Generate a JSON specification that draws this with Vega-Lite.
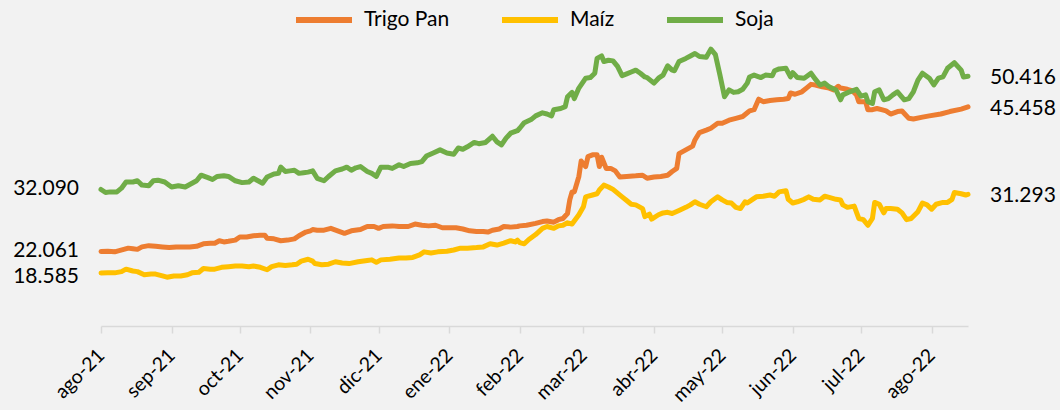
{
  "$schema": "https://vega.github.io/schema/vega-lite/v6.json",
  "autosize": {"type": "none"},
  "width": 867,
  "height": 309,
  "padding": {"left": 101, "top": 17, "right": 92, "bottom": 84},
  "background": "#F2F2F2",
  "config": {
    "view": {"stroke": null},
    "locale": {"number": {"decimal": ",", "thousands": ".", "grouping": [3], "currency": ["$", ""]}},
    "axis": {"grid": false}
  },
  "data": {"values": [
    {"d":"2021-08-01","s":"Trigo Pan","v":22061},{"d":"2021-08-04","s":"Trigo Pan","v":22100},{"d":"2021-08-07","s":"Trigo Pan","v":22000},{"d":"2021-08-09","s":"Trigo Pan","v":22200},{"d":"2021-08-13","s":"Trigo Pan","v":22600},{"d":"2021-08-15","s":"Trigo Pan","v":22500},{"d":"2021-08-17","s":"Trigo Pan","v":22400},{"d":"2021-08-19","s":"Trigo Pan","v":22800},{"d":"2021-08-22","s":"Trigo Pan","v":23000},{"d":"2021-08-25","s":"Trigo Pan","v":22900},{"d":"2021-08-28","s":"Trigo Pan","v":22800},{"d":"2021-08-31","s":"Trigo Pan","v":22700},{"d":"2021-09-03","s":"Trigo Pan","v":22800},{"d":"2021-09-06","s":"Trigo Pan","v":22800},{"d":"2021-09-09","s":"Trigo Pan","v":22800},{"d":"2021-09-12","s":"Trigo Pan","v":22900},{"d":"2021-09-15","s":"Trigo Pan","v":23300},{"d":"2021-09-18","s":"Trigo Pan","v":23400},{"d":"2021-09-20","s":"Trigo Pan","v":23400},{"d":"2021-09-22","s":"Trigo Pan","v":23800},{"d":"2021-09-24","s":"Trigo Pan","v":23600},{"d":"2021-09-26","s":"Trigo Pan","v":23700},{"d":"2021-09-29","s":"Trigo Pan","v":23900},{"d":"2021-10-01","s":"Trigo Pan","v":24400},{"d":"2021-10-04","s":"Trigo Pan","v":24400},{"d":"2021-10-07","s":"Trigo Pan","v":24600},{"d":"2021-10-10","s":"Trigo Pan","v":24700},{"d":"2021-10-12","s":"Trigo Pan","v":24700},{"d":"2021-10-13","s":"Trigo Pan","v":24200},{"d":"2021-10-16","s":"Trigo Pan","v":24100},{"d":"2021-10-19","s":"Trigo Pan","v":23800},{"d":"2021-10-22","s":"Trigo Pan","v":23900},{"d":"2021-10-25","s":"Trigo Pan","v":24100},{"d":"2021-10-27","s":"Trigo Pan","v":24600},{"d":"2021-10-30","s":"Trigo Pan","v":25200},{"d":"2021-11-01","s":"Trigo Pan","v":25400},{"d":"2021-11-02","s":"Trigo Pan","v":25600},{"d":"2021-11-04","s":"Trigo Pan","v":25500},{"d":"2021-11-07","s":"Trigo Pan","v":25500},{"d":"2021-11-10","s":"Trigo Pan","v":25800},{"d":"2021-11-13","s":"Trigo Pan","v":25400},{"d":"2021-11-16","s":"Trigo Pan","v":25000},{"d":"2021-11-19","s":"Trigo Pan","v":25400},{"d":"2021-11-23","s":"Trigo Pan","v":25600},{"d":"2021-11-26","s":"Trigo Pan","v":26100},{"d":"2021-11-29","s":"Trigo Pan","v":26100},{"d":"2021-12-01","s":"Trigo Pan","v":25800},{"d":"2021-12-03","s":"Trigo Pan","v":26100},{"d":"2021-12-07","s":"Trigo Pan","v":26200},{"d":"2021-12-10","s":"Trigo Pan","v":26100},{"d":"2021-12-14","s":"Trigo Pan","v":26100},{"d":"2021-12-17","s":"Trigo Pan","v":26500},{"d":"2021-12-20","s":"Trigo Pan","v":26300},{"d":"2021-12-23","s":"Trigo Pan","v":26200},{"d":"2021-12-26","s":"Trigo Pan","v":26300},{"d":"2021-12-29","s":"Trigo Pan","v":25900},{"d":"2022-01-01","s":"Trigo Pan","v":25900},{"d":"2022-01-04","s":"Trigo Pan","v":25900},{"d":"2022-01-07","s":"Trigo Pan","v":25700},{"d":"2022-01-10","s":"Trigo Pan","v":25400},{"d":"2022-01-13","s":"Trigo Pan","v":25300},{"d":"2022-01-16","s":"Trigo Pan","v":25300},{"d":"2022-01-18","s":"Trigo Pan","v":25200},{"d":"2022-01-20","s":"Trigo Pan","v":25500},{"d":"2022-01-23","s":"Trigo Pan","v":25700},{"d":"2022-01-25","s":"Trigo Pan","v":26100},{"d":"2022-01-28","s":"Trigo Pan","v":26000},{"d":"2022-01-31","s":"Trigo Pan","v":26100},{"d":"2022-02-01","s":"Trigo Pan","v":26200},{"d":"2022-02-04","s":"Trigo Pan","v":26300},{"d":"2022-02-08","s":"Trigo Pan","v":26600},{"d":"2022-02-11","s":"Trigo Pan","v":26900},{"d":"2022-02-13","s":"Trigo Pan","v":27000},{"d":"2022-02-16","s":"Trigo Pan","v":26800},{"d":"2022-02-18","s":"Trigo Pan","v":27200},{"d":"2022-02-20","s":"Trigo Pan","v":27400},{"d":"2022-02-22","s":"Trigo Pan","v":28200},{"d":"2022-02-23","s":"Trigo Pan","v":30400},{"d":"2022-02-24","s":"Trigo Pan","v":31700},{"d":"2022-02-25","s":"Trigo Pan","v":31700},{"d":"2022-02-27","s":"Trigo Pan","v":34200},{"d":"2022-02-28","s":"Trigo Pan","v":36700},{"d":"2022-03-02","s":"Trigo Pan","v":35800},{"d":"2022-03-03","s":"Trigo Pan","v":37400},{"d":"2022-03-05","s":"Trigo Pan","v":37700},{"d":"2022-03-07","s":"Trigo Pan","v":37700},{"d":"2022-03-08","s":"Trigo Pan","v":35800},{"d":"2022-03-09","s":"Trigo Pan","v":37300},{"d":"2022-03-11","s":"Trigo Pan","v":35500},{"d":"2022-03-13","s":"Trigo Pan","v":35500},{"d":"2022-03-15","s":"Trigo Pan","v":35100},{"d":"2022-03-17","s":"Trigo Pan","v":34100},{"d":"2022-03-20","s":"Trigo Pan","v":34200},{"d":"2022-03-24","s":"Trigo Pan","v":34300},{"d":"2022-03-27","s":"Trigo Pan","v":34400},{"d":"2022-03-29","s":"Trigo Pan","v":33900},{"d":"2022-04-01","s":"Trigo Pan","v":34100},{"d":"2022-04-04","s":"Trigo Pan","v":34200},{"d":"2022-04-07","s":"Trigo Pan","v":34400},{"d":"2022-04-09","s":"Trigo Pan","v":35000},{"d":"2022-04-11","s":"Trigo Pan","v":35500},{"d":"2022-04-12","s":"Trigo Pan","v":37900},{"d":"2022-04-15","s":"Trigo Pan","v":38500},{"d":"2022-04-18","s":"Trigo Pan","v":39100},{"d":"2022-04-19","s":"Trigo Pan","v":40100},{"d":"2022-04-21","s":"Trigo Pan","v":41300},{"d":"2022-04-24","s":"Trigo Pan","v":41700},{"d":"2022-04-26","s":"Trigo Pan","v":42000},{"d":"2022-04-29","s":"Trigo Pan","v":42800},{"d":"2022-05-01","s":"Trigo Pan","v":42800},{"d":"2022-05-04","s":"Trigo Pan","v":43300},{"d":"2022-05-07","s":"Trigo Pan","v":43600},{"d":"2022-05-10","s":"Trigo Pan","v":43900},{"d":"2022-05-12","s":"Trigo Pan","v":44500},{"d":"2022-05-13","s":"Trigo Pan","v":44800},{"d":"2022-05-15","s":"Trigo Pan","v":45000},{"d":"2022-05-17","s":"Trigo Pan","v":46700},{"d":"2022-05-19","s":"Trigo Pan","v":46300},{"d":"2022-05-22","s":"Trigo Pan","v":46500},{"d":"2022-05-25","s":"Trigo Pan","v":46600},{"d":"2022-05-28","s":"Trigo Pan","v":46700},{"d":"2022-05-30","s":"Trigo Pan","v":46800},{"d":"2022-05-31","s":"Trigo Pan","v":47700},{"d":"2022-06-02","s":"Trigo Pan","v":47500},{"d":"2022-06-05","s":"Trigo Pan","v":47900},{"d":"2022-06-07","s":"Trigo Pan","v":48500},{"d":"2022-06-09","s":"Trigo Pan","v":49100},{"d":"2022-06-11","s":"Trigo Pan","v":49000},{"d":"2022-06-14","s":"Trigo Pan","v":48700},{"d":"2022-06-17","s":"Trigo Pan","v":48500},{"d":"2022-06-19","s":"Trigo Pan","v":48200},{"d":"2022-06-21","s":"Trigo Pan","v":48800},{"d":"2022-06-22","s":"Trigo Pan","v":48500},{"d":"2022-06-25","s":"Trigo Pan","v":48300},{"d":"2022-06-27","s":"Trigo Pan","v":48100},{"d":"2022-06-29","s":"Trigo Pan","v":47400},{"d":"2022-06-30","s":"Trigo Pan","v":46300},{"d":"2022-07-03","s":"Trigo Pan","v":46300},{"d":"2022-07-04","s":"Trigo Pan","v":45000},{"d":"2022-07-06","s":"Trigo Pan","v":45000},{"d":"2022-07-08","s":"Trigo Pan","v":45200},{"d":"2022-07-10","s":"Trigo Pan","v":45000},{"d":"2022-07-12","s":"Trigo Pan","v":44800},{"d":"2022-07-14","s":"Trigo Pan","v":44300},{"d":"2022-07-17","s":"Trigo Pan","v":44700},{"d":"2022-07-19","s":"Trigo Pan","v":44800},{"d":"2022-07-22","s":"Trigo Pan","v":43600},{"d":"2022-07-24","s":"Trigo Pan","v":43500},{"d":"2022-07-28","s":"Trigo Pan","v":43800},{"d":"2022-07-31","s":"Trigo Pan","v":44000},{"d":"2022-08-05","s":"Trigo Pan","v":44300},{"d":"2022-08-09","s":"Trigo Pan","v":44700},{"d":"2022-08-14","s":"Trigo Pan","v":45100},{"d":"2022-08-17","s":"Trigo Pan","v":45458},
    {"d":"2021-08-01","s":"Maíz","v":18585},{"d":"2021-08-04","s":"Maíz","v":18600},{"d":"2021-08-07","s":"Maíz","v":18600},{"d":"2021-08-10","s":"Maíz","v":18800},{"d":"2021-08-12","s":"Maíz","v":19200},{"d":"2021-08-15","s":"Maíz","v":18900},{"d":"2021-08-17","s":"Maíz","v":18800},{"d":"2021-08-20","s":"Maíz","v":18300},{"d":"2021-08-23","s":"Maíz","v":18400},{"d":"2021-08-25","s":"Maíz","v":18400},{"d":"2021-08-28","s":"Maíz","v":18100},{"d":"2021-08-30","s":"Maíz","v":17900},{"d":"2021-09-02","s":"Maíz","v":18100},{"d":"2021-09-05","s":"Maíz","v":18100},{"d":"2021-09-08","s":"Maíz","v":18300},{"d":"2021-09-10","s":"Maíz","v":18600},{"d":"2021-09-13","s":"Maíz","v":18700},{"d":"2021-09-15","s":"Maíz","v":19300},{"d":"2021-09-18","s":"Maíz","v":19200},{"d":"2021-09-20","s":"Maíz","v":19200},{"d":"2021-09-23","s":"Maíz","v":19500},{"d":"2021-09-26","s":"Maíz","v":19600},{"d":"2021-09-29","s":"Maíz","v":19700},{"d":"2021-10-02","s":"Maíz","v":19700},{"d":"2021-10-05","s":"Maíz","v":19600},{"d":"2021-10-07","s":"Maíz","v":19700},{"d":"2021-10-10","s":"Maíz","v":19500},{"d":"2021-10-13","s":"Maíz","v":19100},{"d":"2021-10-15","s":"Maíz","v":19600},{"d":"2021-10-18","s":"Maíz","v":19900},{"d":"2021-10-21","s":"Maíz","v":19800},{"d":"2021-10-24","s":"Maíz","v":19900},{"d":"2021-10-26","s":"Maíz","v":20000},{"d":"2021-10-28","s":"Maíz","v":20500},{"d":"2021-10-31","s":"Maíz","v":20800},{"d":"2021-11-02","s":"Maíz","v":20500},{"d":"2021-11-03","s":"Maíz","v":20100},{"d":"2021-11-06","s":"Maíz","v":19900},{"d":"2021-11-09","s":"Maíz","v":20000},{"d":"2021-11-12","s":"Maíz","v":20400},{"d":"2021-11-15","s":"Maíz","v":20200},{"d":"2021-11-18","s":"Maíz","v":20100},{"d":"2021-11-22","s":"Maíz","v":20400},{"d":"2021-11-26","s":"Maíz","v":20600},{"d":"2021-11-28","s":"Maíz","v":20700},{"d":"2021-11-30","s":"Maíz","v":20300},{"d":"2021-12-02","s":"Maíz","v":20700},{"d":"2021-12-06","s":"Maíz","v":20800},{"d":"2021-12-10","s":"Maíz","v":21000},{"d":"2021-12-13","s":"Maíz","v":21000},{"d":"2021-12-16","s":"Maíz","v":21100},{"d":"2021-12-19","s":"Maíz","v":21500},{"d":"2021-12-21","s":"Maíz","v":22000},{"d":"2021-12-24","s":"Maíz","v":21800},{"d":"2021-12-27","s":"Maíz","v":22000},{"d":"2021-12-31","s":"Maíz","v":22100},{"d":"2022-01-03","s":"Maíz","v":22300},{"d":"2022-01-06","s":"Maíz","v":22600},{"d":"2022-01-09","s":"Maíz","v":22600},{"d":"2022-01-13","s":"Maíz","v":22700},{"d":"2022-01-16","s":"Maíz","v":22800},{"d":"2022-01-19","s":"Maíz","v":23300},{"d":"2022-01-22","s":"Maíz","v":23100},{"d":"2022-01-25","s":"Maíz","v":23400},{"d":"2022-01-28","s":"Maíz","v":23800},{"d":"2022-01-30","s":"Maíz","v":23600},{"d":"2022-01-31","s":"Maíz","v":23900},{"d":"2022-02-01","s":"Maíz","v":23500},{"d":"2022-02-03","s":"Maíz","v":23300},{"d":"2022-02-05","s":"Maíz","v":24000},{"d":"2022-02-08","s":"Maíz","v":24800},{"d":"2022-02-11","s":"Maíz","v":25800},{"d":"2022-02-13","s":"Maíz","v":26100},{"d":"2022-02-16","s":"Maíz","v":25800},{"d":"2022-02-18","s":"Maíz","v":26200},{"d":"2022-02-20","s":"Maíz","v":26300},{"d":"2022-02-22","s":"Maíz","v":26700},{"d":"2022-02-24","s":"Maíz","v":26500},{"d":"2022-02-27","s":"Maíz","v":28000},{"d":"2022-03-01","s":"Maíz","v":29300},{"d":"2022-03-02","s":"Maíz","v":30900},{"d":"2022-03-05","s":"Maíz","v":31200},{"d":"2022-03-07","s":"Maíz","v":31400},{"d":"2022-03-08","s":"Maíz","v":32000},{"d":"2022-03-10","s":"Maíz","v":32800},{"d":"2022-03-12","s":"Maíz","v":32500},{"d":"2022-03-14","s":"Maíz","v":32100},{"d":"2022-03-16","s":"Maíz","v":31500},{"d":"2022-03-18","s":"Maíz","v":30900},{"d":"2022-03-20","s":"Maíz","v":30300},{"d":"2022-03-22","s":"Maíz","v":29700},{"d":"2022-03-24","s":"Maíz","v":29600},{"d":"2022-03-27","s":"Maíz","v":29000},{"d":"2022-03-28","s":"Maíz","v":27700},{"d":"2022-03-30","s":"Maíz","v":28100},{"d":"2022-03-31","s":"Maíz","v":27300},{"d":"2022-04-03","s":"Maíz","v":28000},{"d":"2022-04-05","s":"Maíz","v":28300},{"d":"2022-04-07","s":"Maíz","v":28400},{"d":"2022-04-09","s":"Maíz","v":28200},{"d":"2022-04-12","s":"Maíz","v":28700},{"d":"2022-04-15","s":"Maíz","v":29200},{"d":"2022-04-17","s":"Maíz","v":29600},{"d":"2022-04-19","s":"Maíz","v":30100},{"d":"2022-04-21","s":"Maíz","v":29700},{"d":"2022-04-24","s":"Maíz","v":29300},{"d":"2022-04-26","s":"Maíz","v":30100},{"d":"2022-04-29","s":"Maíz","v":30900},{"d":"2022-05-01","s":"Maíz","v":30400},{"d":"2022-05-03","s":"Maíz","v":30000},{"d":"2022-05-05","s":"Maíz","v":29900},{"d":"2022-05-07","s":"Maíz","v":29200},{"d":"2022-05-09","s":"Maíz","v":29000},{"d":"2022-05-11","s":"Maíz","v":30100},{"d":"2022-05-12","s":"Maíz","v":29900},{"d":"2022-05-14","s":"Maíz","v":30400},{"d":"2022-05-16","s":"Maíz","v":30900},{"d":"2022-05-19","s":"Maíz","v":31000},{"d":"2022-05-22","s":"Maíz","v":31200},{"d":"2022-05-24","s":"Maíz","v":31000},{"d":"2022-05-26","s":"Maíz","v":31700},{"d":"2022-05-29","s":"Maíz","v":31900},{"d":"2022-05-30","s":"Maíz","v":30500},{"d":"2022-06-01","s":"Maíz","v":29900},{"d":"2022-06-03","s":"Maíz","v":30100},{"d":"2022-06-06","s":"Maíz","v":30500},{"d":"2022-06-08","s":"Maíz","v":30900},{"d":"2022-06-10","s":"Maíz","v":30500},{"d":"2022-06-13","s":"Maíz","v":30400},{"d":"2022-06-15","s":"Maíz","v":31000},{"d":"2022-06-17","s":"Maíz","v":30800},{"d":"2022-06-20","s":"Maíz","v":30500},{"d":"2022-06-22","s":"Maíz","v":30400},{"d":"2022-06-23","s":"Maíz","v":29600},{"d":"2022-06-25","s":"Maíz","v":29200},{"d":"2022-06-28","s":"Maíz","v":29400},{"d":"2022-06-30","s":"Maíz","v":27400},{"d":"2022-07-02","s":"Maíz","v":27200},{"d":"2022-07-04","s":"Maíz","v":26300},{"d":"2022-07-06","s":"Maíz","v":27400},{"d":"2022-07-07","s":"Maíz","v":30000},{"d":"2022-07-09","s":"Maíz","v":29700},{"d":"2022-07-11","s":"Maíz","v":28300},{"d":"2022-07-12","s":"Maíz","v":29000},{"d":"2022-07-14","s":"Maíz","v":29000},{"d":"2022-07-17","s":"Maíz","v":28900},{"d":"2022-07-19","s":"Maíz","v":28300},{"d":"2022-07-21","s":"Maíz","v":27200},{"d":"2022-07-23","s":"Maíz","v":27400},{"d":"2022-07-26","s":"Maíz","v":28500},{"d":"2022-07-28","s":"Maíz","v":29900},{"d":"2022-07-30","s":"Maíz","v":29600},{"d":"2022-08-01","s":"Maíz","v":28900},{"d":"2022-08-03","s":"Maíz","v":29700},{"d":"2022-08-06","s":"Maíz","v":30000},{"d":"2022-08-08","s":"Maíz","v":30000},{"d":"2022-08-10","s":"Maíz","v":30500},{"d":"2022-08-11","s":"Maíz","v":31600},{"d":"2022-08-14","s":"Maíz","v":31400},{"d":"2022-08-16","s":"Maíz","v":31200},{"d":"2022-08-17","s":"Maíz","v":31293},
    {"d":"2021-08-01","s":"Soja","v":32090},{"d":"2021-08-03","s":"Soja","v":31600},{"d":"2021-08-05","s":"Soja","v":31700},{"d":"2021-08-08","s":"Soja","v":31700},{"d":"2021-08-10","s":"Soja","v":32300},{"d":"2021-08-12","s":"Soja","v":33300},{"d":"2021-08-15","s":"Soja","v":33300},{"d":"2021-08-17","s":"Soja","v":33500},{"d":"2021-08-19","s":"Soja","v":32800},{"d":"2021-08-22","s":"Soja","v":32700},{"d":"2021-08-24","s":"Soja","v":33500},{"d":"2021-08-26","s":"Soja","v":33600},{"d":"2021-08-29","s":"Soja","v":33300},{"d":"2021-09-01","s":"Soja","v":32500},{"d":"2021-09-04","s":"Soja","v":32700},{"d":"2021-09-07","s":"Soja","v":32500},{"d":"2021-09-10","s":"Soja","v":33100},{"d":"2021-09-12","s":"Soja","v":33500},{"d":"2021-09-14","s":"Soja","v":34400},{"d":"2021-09-17","s":"Soja","v":34000},{"d":"2021-09-19","s":"Soja","v":33700},{"d":"2021-09-21","s":"Soja","v":34200},{"d":"2021-09-24","s":"Soja","v":34300},{"d":"2021-09-26","s":"Soja","v":34200},{"d":"2021-09-29","s":"Soja","v":33500},{"d":"2021-10-02","s":"Soja","v":33200},{"d":"2021-10-05","s":"Soja","v":33300},{"d":"2021-10-07","s":"Soja","v":33900},{"d":"2021-10-09","s":"Soja","v":33500},{"d":"2021-10-11","s":"Soja","v":33100},{"d":"2021-10-13","s":"Soja","v":34100},{"d":"2021-10-16","s":"Soja","v":34600},{"d":"2021-10-18","s":"Soja","v":34700},{"d":"2021-10-19","s":"Soja","v":35700},{"d":"2021-10-21","s":"Soja","v":35000},{"d":"2021-10-23","s":"Soja","v":35100},{"d":"2021-10-25","s":"Soja","v":35200},{"d":"2021-10-27","s":"Soja","v":34700},{"d":"2021-10-29","s":"Soja","v":34800},{"d":"2021-10-31","s":"Soja","v":34900},{"d":"2021-11-02","s":"Soja","v":35100},{"d":"2021-11-04","s":"Soja","v":33900},{"d":"2021-11-07","s":"Soja","v":33500},{"d":"2021-11-09","s":"Soja","v":34200},{"d":"2021-11-12","s":"Soja","v":35100},{"d":"2021-11-15","s":"Soja","v":35400},{"d":"2021-11-17","s":"Soja","v":35700},{"d":"2021-11-19","s":"Soja","v":35200},{"d":"2021-11-21","s":"Soja","v":35600},{"d":"2021-11-23","s":"Soja","v":35800},{"d":"2021-11-26","s":"Soja","v":35000},{"d":"2021-11-28","s":"Soja","v":34700},{"d":"2021-11-30","s":"Soja","v":34200},{"d":"2021-12-02","s":"Soja","v":35700},{"d":"2021-12-05","s":"Soja","v":35700},{"d":"2021-12-07","s":"Soja","v":35500},{"d":"2021-12-10","s":"Soja","v":36100},{"d":"2021-12-12","s":"Soja","v":35800},{"d":"2021-12-15","s":"Soja","v":36300},{"d":"2021-12-18","s":"Soja","v":36400},{"d":"2021-12-20","s":"Soja","v":36600},{"d":"2021-12-22","s":"Soja","v":37500},{"d":"2021-12-25","s":"Soja","v":38000},{"d":"2021-12-28","s":"Soja","v":38500},{"d":"2021-12-31","s":"Soja","v":38000},{"d":"2022-01-03","s":"Soja","v":37800},{"d":"2022-01-05","s":"Soja","v":38800},{"d":"2022-01-07","s":"Soja","v":38600},{"d":"2022-01-09","s":"Soja","v":39000},{"d":"2022-01-12","s":"Soja","v":39700},{"d":"2022-01-14","s":"Soja","v":39500},{"d":"2022-01-17","s":"Soja","v":39700},{"d":"2022-01-20","s":"Soja","v":40700},{"d":"2022-01-22","s":"Soja","v":39800},{"d":"2022-01-24","s":"Soja","v":39300},{"d":"2022-01-26","s":"Soja","v":40400},{"d":"2022-01-28","s":"Soja","v":41200},{"d":"2022-01-31","s":"Soja","v":41600},{"d":"2022-02-01","s":"Soja","v":42000},{"d":"2022-02-03","s":"Soja","v":42900},{"d":"2022-02-06","s":"Soja","v":43400},{"d":"2022-02-08","s":"Soja","v":44000},{"d":"2022-02-11","s":"Soja","v":44500},{"d":"2022-02-13","s":"Soja","v":44300},{"d":"2022-02-15","s":"Soja","v":44000},{"d":"2022-02-16","s":"Soja","v":45000},{"d":"2022-02-19","s":"Soja","v":45200},{"d":"2022-02-21","s":"Soja","v":45500},{"d":"2022-02-22","s":"Soja","v":47100},{"d":"2022-02-24","s":"Soja","v":47800},{"d":"2022-02-25","s":"Soja","v":46800},{"d":"2022-02-27","s":"Soja","v":48500},{"d":"2022-03-02","s":"Soja","v":50100},{"d":"2022-03-04","s":"Soja","v":50200},{"d":"2022-03-06","s":"Soja","v":50900},{"d":"2022-03-07","s":"Soja","v":53300},{"d":"2022-03-09","s":"Soja","v":53700},{"d":"2022-03-10","s":"Soja","v":52800},{"d":"2022-03-12","s":"Soja","v":53000},{"d":"2022-03-14","s":"Soja","v":52900},{"d":"2022-03-16","s":"Soja","v":52000},{"d":"2022-03-18","s":"Soja","v":50500},{"d":"2022-03-20","s":"Soja","v":50800},{"d":"2022-03-22","s":"Soja","v":51100},{"d":"2022-03-24","s":"Soja","v":51400},{"d":"2022-03-26","s":"Soja","v":50900},{"d":"2022-03-28","s":"Soja","v":50300},{"d":"2022-03-29","s":"Soja","v":50200},{"d":"2022-04-01","s":"Soja","v":49300},{"d":"2022-04-03","s":"Soja","v":50100},{"d":"2022-04-05","s":"Soja","v":50600},{"d":"2022-04-07","s":"Soja","v":52100},{"d":"2022-04-09","s":"Soja","v":51400},{"d":"2022-04-10","s":"Soja","v":51300},{"d":"2022-04-12","s":"Soja","v":52800},{"d":"2022-04-15","s":"Soja","v":53300},{"d":"2022-04-17","s":"Soja","v":53700},{"d":"2022-04-19","s":"Soja","v":54100},{"d":"2022-04-21","s":"Soja","v":53600},{"d":"2022-04-24","s":"Soja","v":53500},{"d":"2022-04-26","s":"Soja","v":54800},{"d":"2022-04-28","s":"Soja","v":53900},{"d":"2022-04-30","s":"Soja","v":50600},{"d":"2022-05-02","s":"Soja","v":47100},{"d":"2022-05-04","s":"Soja","v":48200},{"d":"2022-05-06","s":"Soja","v":47800},{"d":"2022-05-08","s":"Soja","v":47900},{"d":"2022-05-10","s":"Soja","v":48300},{"d":"2022-05-12","s":"Soja","v":49300},{"d":"2022-05-13","s":"Soja","v":50300},{"d":"2022-05-15","s":"Soja","v":50600},{"d":"2022-05-18","s":"Soja","v":50200},{"d":"2022-05-20","s":"Soja","v":50600},{"d":"2022-05-23","s":"Soja","v":50500},{"d":"2022-05-24","s":"Soja","v":51300},{"d":"2022-05-26","s":"Soja","v":51600},{"d":"2022-05-29","s":"Soja","v":51700},{"d":"2022-05-31","s":"Soja","v":50300},{"d":"2022-06-01","s":"Soja","v":51000},{"d":"2022-06-03","s":"Soja","v":50200},{"d":"2022-06-06","s":"Soja","v":50100},{"d":"2022-06-09","s":"Soja","v":50900},{"d":"2022-06-11","s":"Soja","v":49900},{"d":"2022-06-13","s":"Soja","v":49000},{"d":"2022-06-15","s":"Soja","v":49300},{"d":"2022-06-17","s":"Soja","v":48700},{"d":"2022-06-20","s":"Soja","v":48200},{"d":"2022-06-22","s":"Soja","v":46600},{"d":"2022-06-23","s":"Soja","v":47400},{"d":"2022-06-26","s":"Soja","v":47900},{"d":"2022-06-29","s":"Soja","v":48300},{"d":"2022-07-01","s":"Soja","v":47200},{"d":"2022-07-03","s":"Soja","v":47400},{"d":"2022-07-04","s":"Soja","v":46300},{"d":"2022-07-06","s":"Soja","v":46000},{"d":"2022-07-07","s":"Soja","v":47900},{"d":"2022-07-09","s":"Soja","v":48200},{"d":"2022-07-11","s":"Soja","v":46600},{"d":"2022-07-13","s":"Soja","v":46800},{"d":"2022-07-15","s":"Soja","v":47400},{"d":"2022-07-17","s":"Soja","v":47900},{"d":"2022-07-20","s":"Soja","v":46600},{"d":"2022-07-22","s":"Soja","v":46800},{"d":"2022-07-24","s":"Soja","v":47900},{"d":"2022-07-26","s":"Soja","v":49800},{"d":"2022-07-28","s":"Soja","v":50900},{"d":"2022-07-31","s":"Soja","v":50100},{"d":"2022-08-02","s":"Soja","v":49000},{"d":"2022-08-04","s":"Soja","v":50100},{"d":"2022-08-06","s":"Soja","v":50300},{"d":"2022-08-08","s":"Soja","v":51700},{"d":"2022-08-11","s":"Soja","v":52600},{"d":"2022-08-14","s":"Soja","v":51400},{"d":"2022-08-15","s":"Soja","v":50300},{"d":"2022-08-17","s":"Soja","v":50416}
  ]},
  "encoding": {
    "x": {
      "field": "d", "type": "temporal",
      "scale": {"type": "utc", "domain": [{"year": 2021, "month": 8, "date": 1, "utc": true}, {"year": 2022, "month": 8, "date": 17, "utc": true}]},
      "axis": {
        "title": null,
        "tickCount": {"interval": "month", "step": 1},
        "labelExpr": "['ene','feb','mar','abr','may','jun','jul','ago','sep','oct','nov','dic'][utcmonth(datum.value)] + '-' + utcFormat(datum.value, '%y')",
        "labelAngle": -45,
        "labelAlign": "right",
        "labelBaseline": "middle",
        "labelFont": "Lato",
        "labelFontSize": 19.5,
        "labelColor": "#000000",
        "labelPadding": 19,
        "labelOverlap": false,
        "labelBound": false,
        "labelFlush": false,
        "domainColor": "#D9D9D9",
        "domainWidth": 1.5,
        "tickColor": "#D9D9D9",
        "tickWidth": 1.5,
        "tickSize": 7,
        "grid": false
      }
    },
    "y": {"field": "v", "type": "quantitative", "scale": {"domain": [10000, 60000], "zero": false, "nice": false}, "axis": null}
  },
  "layer": [
    {
      "mark": {"type": "line", "strokeWidth": 5, "strokeCap": "round", "strokeJoin": "round"},
      "encoding": {
        "color": {
          "field": "s", "type": "nominal",
          "scale": {"domain": ["Trigo Pan", "Maíz", "Soja"], "range": ["#ED7D31", "#FFC000", "#70AD47"]},
          "legend": {
            "title": null, "orient": "none", "direction": "horizontal",
            "legendX": 192, "legendY": -28,
            "symbolType": "stroke", "symbolSize": 3136, "symbolStrokeWidth": 6,
            "labelFont": "Lato", "labelFontSize": 21, "labelColor": "#000000",
            "labelOffset": 9, "columnPadding": 40, "padding": 0
          }
        }
      }
    },
    {
      "transform": [{"filter": "utcyear(datum.d) == 2021 && utcmonth(datum.d) == 7 && utcdate(datum.d) == 1 && datum.s != 'Maíz'"}],
      "mark": {"type": "text", "align": "right", "baseline": "middle", "dx": -22, "dy": 0, "font": "Lato", "fontSize": 21, "color": "#000000"},
      "encoding": {"text": {"field": "v", "type": "quantitative", "format": ",.0f"}}
    },
    {
      "transform": [{"filter": "utcyear(datum.d) == 2021 && utcmonth(datum.d) == 7 && utcdate(datum.d) == 1 && datum.s == 'Maíz'"}],
      "mark": {"type": "text", "align": "right", "baseline": "middle", "dx": -22, "dy": 4, "font": "Lato", "fontSize": 21, "color": "#000000"},
      "encoding": {"text": {"field": "v", "type": "quantitative", "format": ",.0f"}}
    },
    {
      "transform": [{"filter": "utcyear(datum.d) == 2022 && utcmonth(datum.d) == 7 && utcdate(datum.d) == 17"}],
      "mark": {"type": "text", "align": "left", "baseline": "middle", "dx": 22, "dy": 2, "font": "Lato", "fontSize": 21, "color": "#000000"},
      "encoding": {"text": {"field": "v", "type": "quantitative", "format": ",.0f"}}
    }
  ]
}
